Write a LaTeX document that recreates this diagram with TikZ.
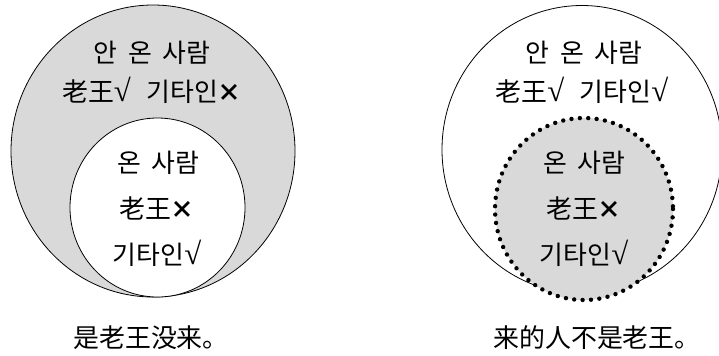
\documentclass[tikz,border=0pt]{standalone}
\usepackage{fontspec}
\setmainfont{Noto Sans CJK KR}
\newfontfamily\chkfont{Liberation Serif}
\newcommand{\okmark}{{\chkfont\fontsize{31}{31}\selectfont √}}
\newcommand{\nomark}{{\fontsize{24}{26}\selectfont\bfseries ×}}
\newcommand{\wsp}{\hspace{0.4em}}
\definecolor{graybg}{RGB}{217,217,217}
\tikzset{
  lbl/.style={font=\fontsize{26}{30}\selectfont, inner sep=0pt, anchor=center},
  outer/.style={draw=black, line width=0.8bp},
  dotline/.style={draw=black, line width=4.4bp, line cap=round, dash pattern=on 0bp off 8.4bp}
}
\begin{document}
\begin{tikzpicture}[x=1bp,y=-1bp]
\useasboundingbox (0,0) rectangle (719,355);
% left diagram
\filldraw[outer, fill=graybg] (153,151) ellipse [x radius=142, y radius=146];
\filldraw[outer, fill=white] (157.5,207.5) ellipse [x radius=87.5, y radius=89.5];
\node[lbl] (l1) at (152,53) {안\wsp 온\wsp 사람};
\node[lbl] (l2) at (152,90) {老王\okmark\hspace{0.6em}기타인\nomark};
\node[lbl] (l3) at (158,163) {온\wsp 사람};
\node[lbl] (l4) at (157,208) {老王\nomark};
\node[lbl] (l5) at (157,253) {기타인\okmark};
\node[lbl] (l6) at (151,338) {是老王没来。};
% right diagram
\begin{scope}
\clip (360,0) rectangle (719,355);
\draw[outer] (582,149.5) ellipse [x radius=140, y radius=144];
\end{scope}
\fill[graybg] (584,209) ellipse [x radius=89, y radius=91];
\draw[dotline] (584,209) ellipse [x radius=89, y radius=91];
\node[lbl] (r1) at (584,53) {안\wsp 온\wsp 사람};
\node[lbl] (r2) at (582,90) {老王\okmark\hspace{0.6em}기타인\okmark};
\node[lbl] (r3) at (584,163) {온\wsp 사람};
\node[lbl] (r4) at (584,208) {老王\nomark};
\node[lbl] (r5) at (584,253) {기타인\okmark};
\node[lbl] (r6) at (597,338) {来的人不是老王。};
\end{tikzpicture}
\end{document}
